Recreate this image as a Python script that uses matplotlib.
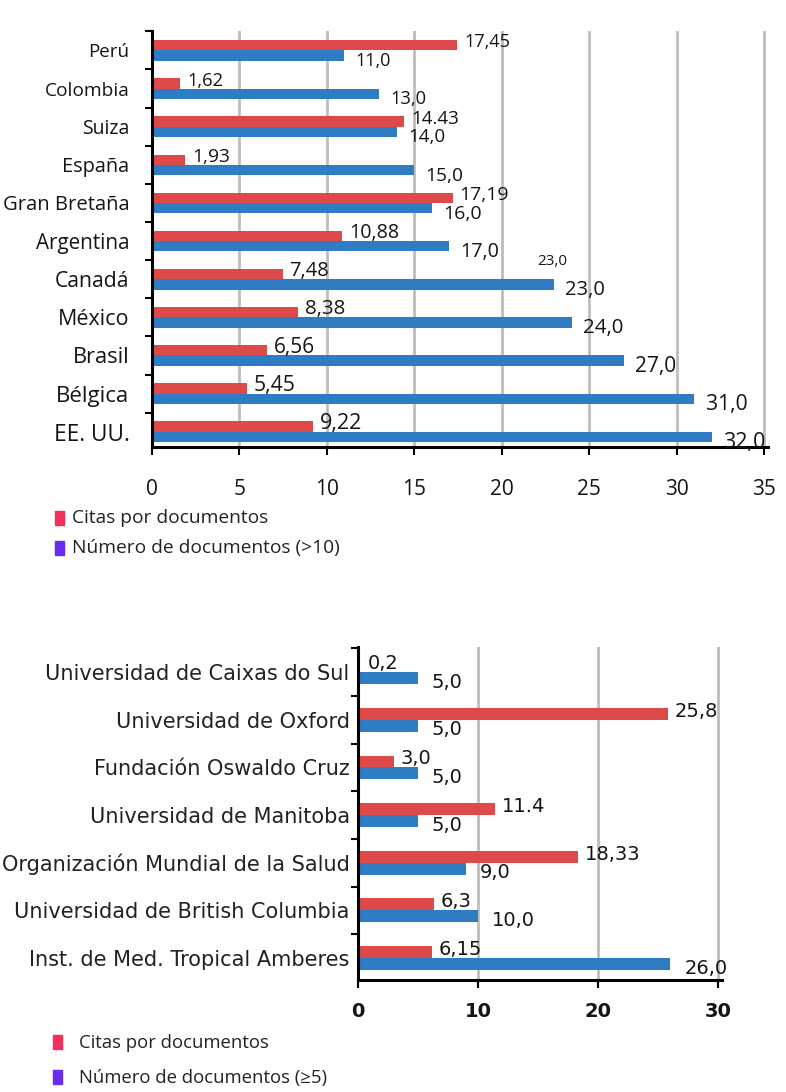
import matplotlib
matplotlib.use("Agg")
import matplotlib.pyplot as plt
from matplotlib.patches import Rectangle

# ---------------- data ----------------
paises = ["Perú", "Colombia", "Suiza", "España", "Gran Bretaña", "Argentina",
          "Canadá", "México", "Brasil", "Bélgica", "EE. UU."]
citas_paises = [17.45, 1.62, 14.43, 1.93, 17.19, 10.88, 7.48, 8.38, 6.56, 5.45, 9.22]
citas_paises_lbl = ["17,45", "1,62", "14.43", "1,93", "17,19", "10,88", "7,48",
                    "8,38", "6,56", "5,45", "9,22"]
docs_paises = [11, 13, 14, 15, 16, 17, 23, 24, 27, 31, 32]
docs_paises_lbl = ["11,0", "13,0", "14,0", "15,0", "16,0", "17,0", "23,0",
                   "24,0", "27,0", "31,0", "32,0"]
ticks_top = [0, 5, 10, 15, 20, 25, 30, 35]

instituciones = ["Universidad de Caixas do Sul", "Universidad de Oxford",
                 "Fundación Oswaldo Cruz", "Universidad de Manitoba",
                 "Organización Mundial de la Salud",
                 "Universidad de British Columbia",
                 "Inst. de Med. Tropical Amberes"]
citas_inst = [0.2, 25.8, 3.0, 11.4, 18.33, 6.3, 6.15]
citas_inst_lbl = ["0,2", "25,8", "3,0", "11.4", "18,33", "6,3", "6,15"]
docs_inst = [5, 5, 5, 5, 9, 10, 26]
docs_inst_lbl = ["5,0", "5,0", "5,0", "5,0", "9,0", "10,0", "26,0"]
ticks_bottom = [0, 10, 20, 30]

leg_top = ["Citas por documentos", "Número de documentos (>10)"]
leg_bottom = ["Citas por documentos", "Número de documentos (≥5)"]

RED = "#DE4A4A"
BLUE = "#2E7CC4"
LEG_RED = "#F2305C"
LEG_PURPLE = "#6A2CF2"
GRID = "#BDBDBD"
TXT = "#151515"

fig = plt.figure(figsize=(7.86, 10.92), dpi=100)

def style_axes(ax, n, ticks, xmax):
    ax.set_xlim(0, xmax)
    ax.set_xticks(ticks)
    for s in ["top", "right"]:
        ax.spines[s].set_visible(False)
    for s in ["left", "bottom"]:
        ax.spines[s].set_linewidth(2.2)
        ax.spines[s].set_color("black")
    ax.set_yticks(range(n))
    ax.set_yticks([i + 0.5 for i in range(-1, n - 1)], minor=True)
    ax.tick_params(axis="y", which="major", length=0)
    ax.tick_params(axis="y", which="minor", length=5, width=1.5, direction="out")
    for t in ticks[1:]:
        ax.axvline(t, color=GRID, lw=2, zorder=0)

# ---------------- top chart ----------------
ax1 = fig.add_axes([0.193, 0.591, 0.784, 0.381])
n1 = len(paises)
h1 = 0.27
y1 = list(range(n1))
ax1.barh([y - h1 / 2 for y in y1], citas_paises, height=h1, color=RED, zorder=2)
ax1.barh([y + h1 / 2 for y in y1], docs_paises, height=h1, color=BLUE, zorder=2)
ax1.set_ylim(n1 - 1 + 0.39, -0.52)
style_axes(ax1, n1, ticks_top, 35.2)
ax1.set_xticklabels([str(t) for t in ticks_top], fontsize=15,
                    family="Open Sans", color=TXT)
ax1.tick_params(axis="x", length=6, width=1.5, direction="out", pad=17)
ax1.set_yticklabels(paises, family="Open Sans", color=TXT)
ax1.tick_params(axis="y", which="major", pad=16)
for i, lab in enumerate(ax1.get_yticklabels()):
    lab.set_fontsize(13.5 + 2.8 * i / (n1 - 1))

for i, (y, v, lab) in enumerate(zip(y1, citas_paises, citas_paises_lbl)):
    ax1.annotate(lab, (v, y - h1 / 2), xytext=(5, 2), textcoords="offset points",
                 ha="left", va="center", fontsize=13 + 2.5 * i / (n1 - 1),
                 family="Open Sans", color=TXT, zorder=3)
for i, (y, v, lab) in enumerate(zip(y1, docs_paises, docs_paises_lbl)):
    ax1.annotate(lab, (v, y + h1 / 2), xytext=(8, -4), textcoords="offset points",
                 ha="left", va="center", fontsize=13 + 2.5 * i / (n1 - 1),
                 family="Open Sans", color=TXT, zorder=3)
# stray small label above Canadá
ax1.annotate("23,0", (docs_paises[6], 6 - h1), xytext=(-12, 5),
             textcoords="offset points", ha="left", va="center",
             fontsize=11, family="Open Sans", color=TXT)

# top legend
fig.patches.append(Rectangle((0.070, 1 - 0.4805), 0.012, 0.0125,
                             transform=fig.transFigure, color=LEG_RED))
fig.patches.append(Rectangle((0.070, 1 - 0.508), 0.012, 0.0125,
                             transform=fig.transFigure, color=LEG_PURPLE))
fig.text(0.092, 1 - 0.4745, leg_top[0], fontsize=13.8, family="Open Sans",
         va="center", color="#222222")
fig.text(0.092, 1 - 0.502, leg_top[1], fontsize=13.8, family="Open Sans",
         va="center", color="#222222")

# ---------------- bottom chart ----------------
ax2 = fig.add_axes([0.4555, 0.1026, 0.463, 0.305])
n2 = len(instituciones)
h2 = 0.25
y2 = list(range(n2))
ax2.barh([y - h2 / 2 for y in y2], citas_inst, height=h2, color=RED, zorder=2)
ax2.barh([y + h2 / 2 for y in y2], docs_inst, height=h2, color=BLUE, zorder=2)
ax2.set_ylim(n2 - 1 + 0.46, -0.53)
style_axes(ax2, n2, ticks_bottom, 30.3)
ax2.set_xticklabels([str(t) for t in ticks_bottom], fontsize=14,
                    fontweight="bold", color=TXT)
ax2.tick_params(axis="x", length=6, width=1.5, direction="out", pad=10)
ax2.set_yticklabels(instituciones, fontsize=15, color="#222222")
ax2.tick_params(axis="y", which="major", pad=6)
for y, v, lab in zip(y2, citas_inst, citas_inst_lbl):
    ax2.annotate(lab, (v, y - h2 / 2), xytext=(5, 2), textcoords="offset points",
                 ha="left", va="center", fontsize=14, color=TXT, zorder=3)
for y, v, lab in zip(y2, docs_inst, docs_inst_lbl):
    ax2.annotate(lab, (v, y + h2 / 2), xytext=(10, -3), textcoords="offset points",
                 ha="left", va="center", fontsize=14, color=TXT, zorder=3)

# bottom legend
fig.patches.append(Rectangle((0.067, 1 - 0.961), 0.012, 0.0135,
                             transform=fig.transFigure, color=LEG_RED))
fig.patches.append(Rectangle((0.067, 1 - 0.993), 0.012, 0.0135,
                             transform=fig.transFigure, color=LEG_PURPLE))
fig.text(0.100, 1 - 0.955, leg_bottom[0], fontsize=13.3, family="Open Sans",
         va="center", color="#222222")
fig.text(0.100, 1 - 0.987, leg_bottom[1], fontsize=13.3, family="Open Sans",
         va="center", color="#222222")

fig.savefig("out.png", dpi=100)
